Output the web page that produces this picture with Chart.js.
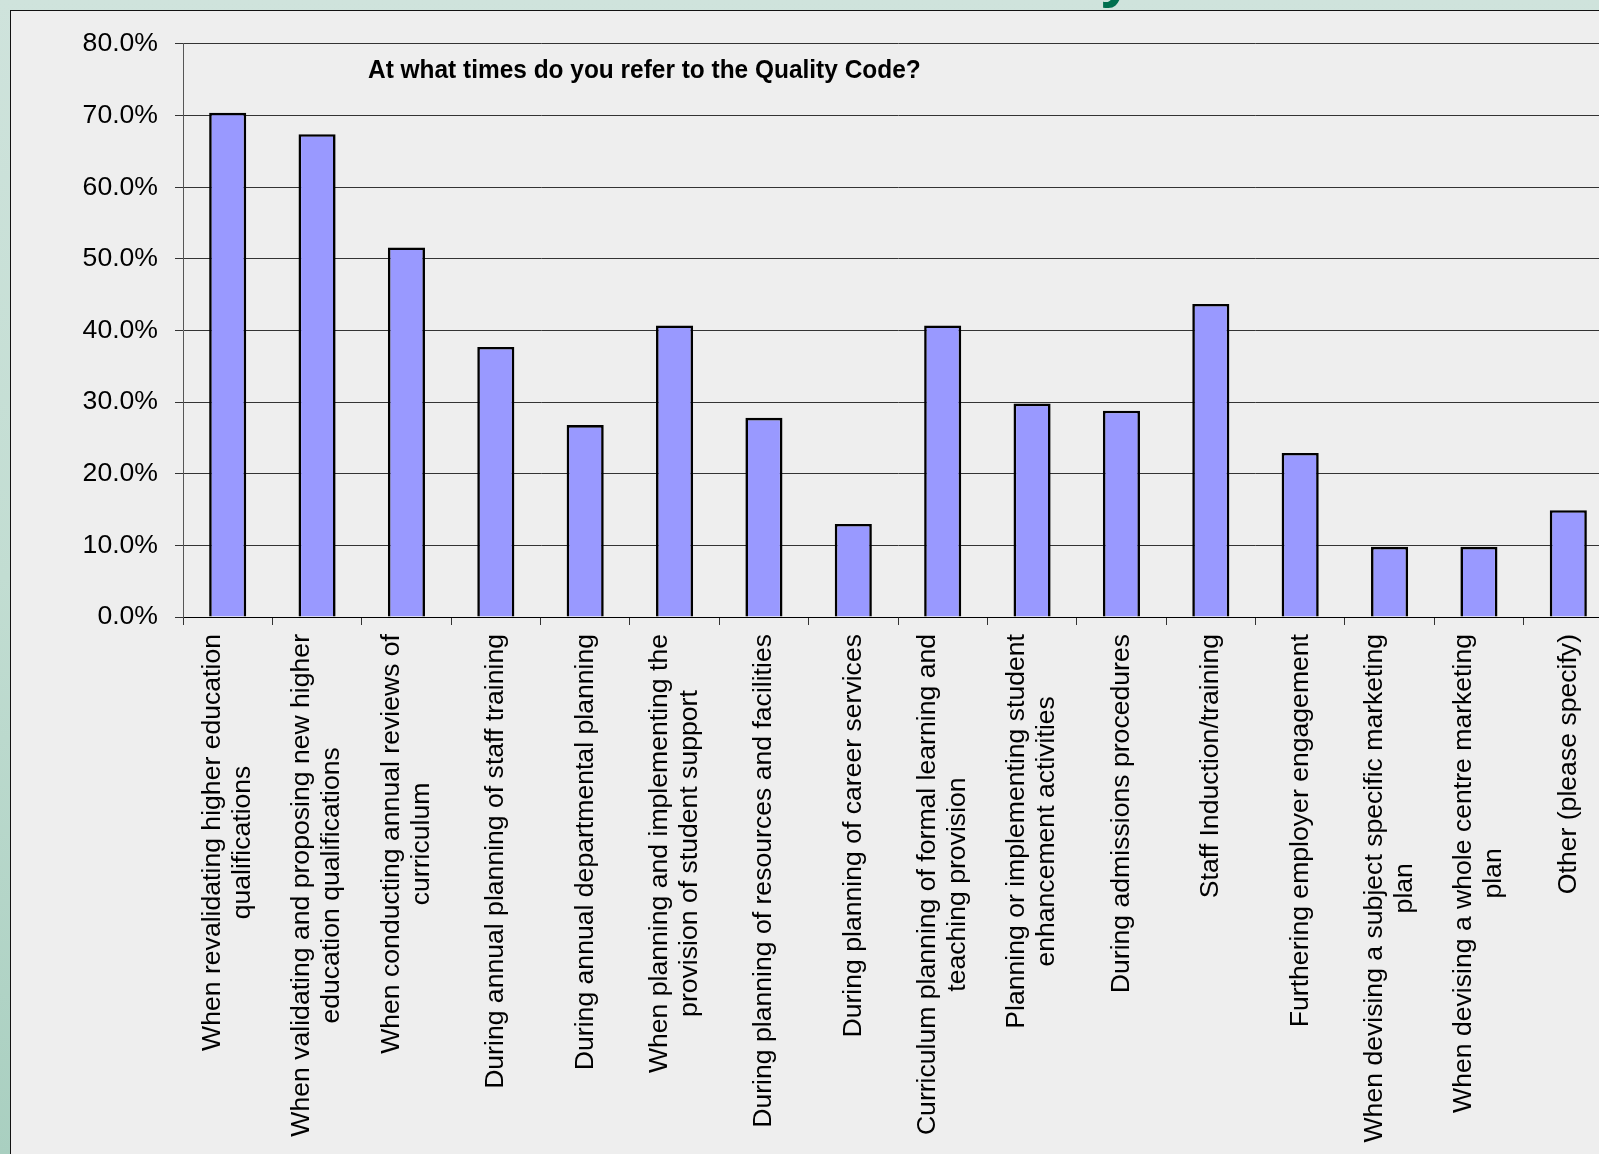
<!DOCTYPE html>
<html>
<head>
<meta charset="utf-8">
<script src="https://cdn.jsdelivr.net/npm/chart.js@4.4.1/dist/chart.umd.min.js"></script>
<style>
    html, body { margin: 0; padding: 0; overflow: hidden; }
    body {
        width: 1599px; height: 1154px; position: relative;
        background: linear-gradient(180deg, #cfe3dc 0%, #c2ddd2 50%, #a9cfc0 100%);
        font-family: "Liberation Sans", Arial, sans-serif;
    }
    .heading-tail {
        position: absolute; left: 1100px; top: -54px;
        font: bold 60px/60px "Liberation Sans", Arial, sans-serif;
        color: #00704f; z-index: 0;
    }
    .panel {
        position: absolute; left: 10px; top: 10px; width: 1620px; height: 1160px;
        background: #eeeeee; border-left: 1px solid #111; border-top: 1px solid #111;
        z-index: 1;
    }
    #chart { display: block; }
</style>
</head>
<body>
<span class="heading-tail">y</span>
<div class="panel">
    <canvas id="chart" width="1610" height="1143"></canvas>
</div>
<script>
const chartTitle = 'At what times do you refer to the Quality Code?';

const categories = [
    ['When revalidating higher education', 'qualifications'],
    ['When validating and proposing new higher', 'education qualifications'],
    ['When conducting annual reviews of', 'curriculum'],
    ['During annual planning of staff training'],
    ['During annual departmental planning'],
    ['When planning and implementing the', 'provision of student support'],
    ['During planning of resources and facilities'],
    ['During planning of career services'],
    ['Curriculum planning of formal learning and', 'teaching provision'],
    ['Planning or implementing student', 'enhancement activities'],
    ['During admissions procedures'],
    ['Staff Induction/training'],
    ['Furthering employer engagement'],
    ['When devising a subject specific marketing', 'plan'],
    ['When devising a whole centre marketing', 'plan'],
    ['Other (please specify)']
];

const percentages = [70.4, 67.4, 51.6, 37.7, 26.8, 40.7, 27.8, 13.0, 40.7, 29.8, 28.8, 43.7, 22.9, 9.8, 9.8, 14.9];

const yTicks = [0, 10, 20, 30, 40, 50, 60, 70, 80];

const FONT = '"Liberation Sans", Arial, sans-serif';
Chart.defaults.font.family = FONT;
Chart.defaults.color = '#000';

// x labels are drawn by hand so the wrapped lines can be centred on each other
const labelsPlugin = {
    id: 'labelsPlugin',
    afterDraw(chart) {
        const ctx = chart.ctx;
        const xs = chart.scales.x;
        const area = chart.chartArea;
        ctx.save();
        ctx.fillStyle = '#000';
        ctx.font = '26.6px ' + FONT;
        ctx.textAlign = 'center';
        ctx.textBaseline = 'middle';
        categories.forEach((lines, i) => {
            const px = xs.getPixelForTick(i);
            const maxW = Math.max(...lines.map(l => ctx.measureText(l).width));
            ctx.save();
            ctx.translate(px, xs.top + 17);
            ctx.rotate(-Math.PI / 2);
            lines.forEach((line, j) => {
                ctx.fillText(line, -maxW / 2, (j - (lines.length - 1) / 2) * 30);
            });
            ctx.restore();
        });

        // title is a bit condensed in the original
        ctx.font = 'bold 26px ' + FONT;
        ctx.textAlign = 'left';
        ctx.textBaseline = 'alphabetic';
        ctx.translate(area.left + 185, area.top + 34);
        ctx.scale(0.94, 1);
        ctx.fillText(chartTitle, 0, 0);
        ctx.restore();
    }
};

new Chart(document.getElementById('chart'), {
    type: 'bar',
    data: {
        labels: categories.map(c => c.join(' ')),
        datasets: [{
            data: percentages,
            backgroundColor: '#9999ff',
            borderColor: '#000',
            borderWidth: 2.6,
            barPercentage: 0.415,
            categoryPercentage: 1.0
        }]
    },
    options: {
        responsive: false,
        animation: false,
        layout: { padding: { top: 32, right: 8, bottom: 0, left: 0 } },
        plugins: {
            legend: { display: false },
            tooltip: { enabled: false },
            title: { display: false }
        },
        scales: {
            x: {
                grid: {
                    display: true,
                    drawOnChartArea: false,
                    drawTicks: true,
                    tickLength: 8,
                    color: '#333'
                },
                border: { display: true, color: '#000', width: 1 },
                ticks: { display: false },
                afterFit(scale) { scale.height = 537; }
            },
            y: {
                min: 0,
                max: 80,
                afterBuildTicks(scale) { scale.ticks = yTicks.map(v => ({ value: v })); },
                grid: { color: '#333', lineWidth: 1, tickLength: 8 },
                border: { display: true, color: '#555', width: 1 },
                ticks: {
                    padding: 17,
                    font: { size: 26.6 },
                    color: '#000',
                    callback: v => v.toFixed(1) + '%'
                },
                afterFit(scale) { scale.width = 172; }
            }
        }
    },
    plugins: [labelsPlugin]
});
</script>
</body>
</html>
